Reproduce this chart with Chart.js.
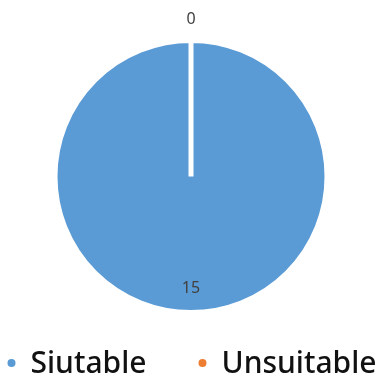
<!DOCTYPE html>
<html>
<head>
<meta charset="utf-8">
<script src="https://cdn.jsdelivr.net/npm/chart.js@4"></script>
<style>
  html, body { margin: 0; padding: 0; background: #fff; }
  #wrap { width: 382px; height: 375px; }
</style>
</head>
<body>
<div id="wrap"><canvas id="myChart"></canvas></div>
<script>
const labels = ["Siutable", "Unsuitable"];
const counts = [15, 0];
const colors = ["#5B9BD5", "#ED7D31"];

// draws the value of each slice: inside for big slices, outside for empty ones
const sliceLabels = {
  id: "sliceLabels",
  afterDatasetsDraw(chart) {
    const ctx = chart.ctx;
    const meta = chart.getDatasetMeta(0);
    ctx.save();
    ctx.font = "16px 'Noto Sans'";
    ctx.fillStyle = "#404040";
    ctx.textAlign = "center";
    ctx.textBaseline = "middle";
    meta.data.forEach((arc, i) => {
      const p = arc.getProps(["x", "y", "startAngle", "endAngle", "outerRadius"], true);
      const mid = (p.startAngle + p.endAngle) / 2;
      const r = counts[i] > 0 ? p.outerRadius * 0.82 : p.outerRadius + 21;
      ctx.fillText(String(counts[i]), p.x + Math.cos(mid) * r, p.y + Math.sin(mid) * r);
    });
    ctx.restore();
  },
};

// legend row at the bottom, wider gap between items than the built-in one allows
const bottomLegend = {
  id: "bottomLegend",
  afterDraw(chart) {
    const ctx = chart.ctx;
    const dotR = 4;
    const textGap = 15;
    const itemGap = 52;
    ctx.save();
    ctx.font = "500 30px 'Noto Sans'";
    ctx.textBaseline = "alphabetic";
    ctx.textAlign = "left";
    const widths = labels.map((l) => ctx.measureText(l).width);
    let total = 0;
    widths.forEach((w, i) => {
      total += dotR * 2 + textGap + w + (i > 0 ? itemGap : 0);
    });
    let x = (chart.width - total) / 2 + 1;
    const baseline = chart.height - 2;
    labels.forEach((l, i) => {
      ctx.fillStyle = colors[i];
      ctx.beginPath();
      ctx.arc(x + dotR, baseline - 10, dotR, 0, Math.PI * 2);
      ctx.fill();
      x += dotR * 2 + textGap;
      ctx.fillStyle = "#111111";
      ctx.fillText(l, x, baseline);
      x += widths[i] + itemGap;
    });
    ctx.restore();
  },
};

const myChart = new Chart("myChart", {
  type: "pie",
  data: {
    labels: labels,
    datasets: [
      {
        data: counts,
        backgroundColor: colors,
        borderColor: "#ffffff",
        borderWidth: 5,
      },
    ],
  },
  options: {
    responsive: true,
    maintainAspectRatio: false,
    animation: false,
    layout: { padding: { top: 38, bottom: 60 } },
    plugins: {
      tooltip: { enabled: false },
      legend: { display: false },
    },
  },
  plugins: [sliceLabels, bottomLegend],
});
</script>
</body>
</html>
